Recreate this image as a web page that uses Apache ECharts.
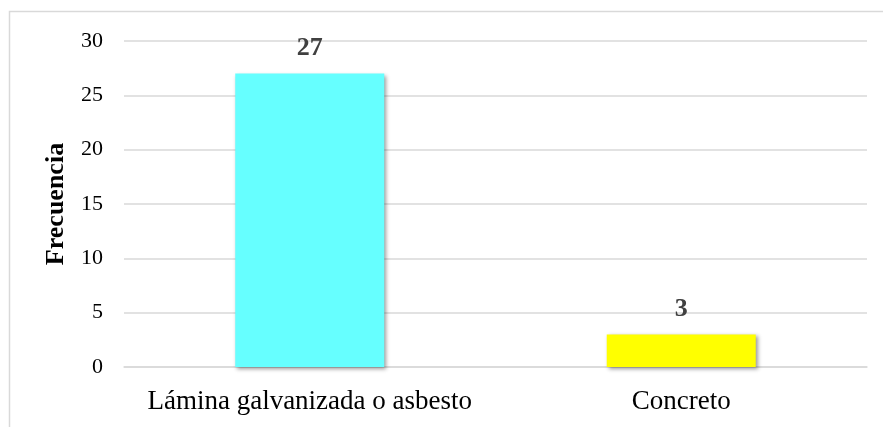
<!DOCTYPE html>
<html>
<head>
<meta charset="utf-8">
<script src="https://cdn.jsdelivr.net/npm/echarts@6/dist/echarts.min.js"></script>
<style>
  html, body { margin: 0; padding: 0; background: #fff; }
  #main { width: 883px; height: 427px; }
</style>
</head>
<body>
<div id="main"></div>
<script>
// datos del gráfico
var categorias = ['Lámina galvanizada o asbesto', 'Concreto'];
var frecuencias = [27, 3];
var colores = ['#66FFFF', '#FFFF00'];
var ticksY = [0, 5, 10, 15, 20, 25, 30];

var fuente = '"Liberation Serif", "DejaVu Serif", serif';

var chart = echarts.init(document.getElementById('main'));
var option = {
  backgroundColor: '#fff',
  animation: false,
  graphic: [{
    type: 'rect',
    shape: { x: 9.5, y: 11.5, width: 900, height: 500 },
    style: { fill: 'none', stroke: '#d9d9d9', lineWidth: 1.5 },
    silent: true
  }],
  grid: { left: 124, right: 16, top: 41, bottom: 60 },
  xAxis: {
    type: 'category',
    data: categorias,
    axisTick: { show: false },
    axisLine: { lineStyle: { color: '#d9d9d9', width: 1.5 } },
    axisLabel: { interval: 0, hideOverlap: false, color: '#000', fontFamily: fuente, fontSize: 27, margin: 21 }
  },
  yAxis: {
    type: 'value',
    min: ticksY[0],
    max: ticksY[ticksY.length - 1],
    interval: 5,
    name: 'Frecuencia',
    nameLocation: 'middle',
    nameGap: 55,
    nameTextStyle: { color: '#000', fontFamily: fuente, fontSize: 26, fontWeight: 'bold' },
    axisLine: { show: false },
    axisTick: { show: false },
    axisLabel: { color: '#000', fontFamily: fuente, fontSize: 22, margin: 21 },
    splitLine: { lineStyle: { color: '#d9d9d9', width: 1.5 } }
  },
  series: [{
    type: 'bar',
    barWidth: 149,
    data: frecuencias.map(function (v, i) {
      return { value: v, itemStyle: { color: colores[i] } };
    }),
    itemStyle: {
      shadowColor: 'rgba(0,0,0,0.4)',
      shadowBlur: 4,
      shadowOffsetX: 2,
      shadowOffsetY: 2
    },
    label: {
      show: true,
      position: 'top',
      distance: 12,
      color: '#404040',
      fontFamily: fuente,
      fontSize: 26,
      fontWeight: 'bold'
    }
  }]
};
chart.setOption(option);
</script>
</body>
</html>
